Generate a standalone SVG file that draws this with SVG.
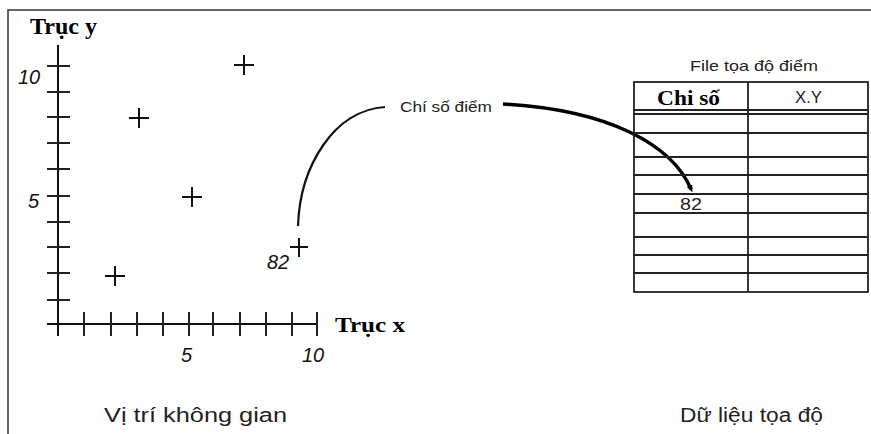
<svg xmlns="http://www.w3.org/2000/svg" width="871" height="434" viewBox="0 0 871 434">
<defs>
<style>
.ax{stroke:#111;stroke-width:2;fill:none}
.tk{stroke:#222;stroke-width:2}
.pl{stroke:#111;stroke-width:2}
.ser{font-family:"Liberation Serif",serif;font-weight:bold;fill:#000}
.num{font-family:"Liberation Sans",Arial,sans-serif;font-style:italic;font-size:20px;fill:#111}
.sans{font-family:"Liberation Sans",Arial,sans-serif;fill:#222}
.tl{stroke:#222;stroke-width:1.8}
</style>
<marker id="blob" viewBox="0 0 10 10" refX="5" refY="5" markerWidth="2.2" markerHeight="2.2" orient="auto">
<path d="M0,1 L10,5 L0,9 z" fill="#000"/>
</marker>
</defs>
<rect width="871" height="434" fill="#fff"/>
<path d="M8,434 V10 H871" stroke="#333" stroke-width="1.5" fill="none"/>

<g id="axes">
<line class="ax" x1="58" y1="45" x2="58" y2="336"/>
<line class="ax" x1="47" y1="324" x2="317" y2="324"/>
<g class="tk">
<line x1="47" y1="66" x2="70" y2="66"/>
<line x1="47" y1="92" x2="70" y2="92"/>
<line x1="47" y1="117" x2="70" y2="117"/>
<line x1="47" y1="143" x2="70" y2="143"/>
<line x1="47" y1="169" x2="70" y2="169"/>
<line x1="47" y1="196" x2="70" y2="196"/>
<line x1="47" y1="222" x2="70" y2="222"/>
<line x1="47" y1="247" x2="70" y2="247"/>
<line x1="47" y1="273" x2="70" y2="273"/>
<line x1="47" y1="300" x2="70" y2="300"/>
<line x1="84" y1="312" x2="84" y2="336"/>
<line x1="111" y1="312" x2="111" y2="336"/>
<line x1="137" y1="312" x2="137" y2="336"/>
<line x1="163" y1="312" x2="163" y2="336"/>
<line x1="189" y1="312" x2="189" y2="336"/>
<line x1="213" y1="312" x2="213" y2="336"/>
<line x1="240" y1="312" x2="240" y2="336"/>
<line x1="266" y1="312" x2="266" y2="336"/>
<line x1="292" y1="312" x2="292" y2="336"/>
<line x1="317" y1="312" x2="317" y2="336"/>
</g>
<text class="ser" x="30" y="34" font-size="23" textLength="67" lengthAdjust="spacingAndGlyphs">Trục y</text>
<text class="ser" x="335" y="332" font-size="22" textLength="70" lengthAdjust="spacingAndGlyphs">Trục x</text>
<text class="num" x="18" y="84">10</text>
<text class="num" x="28" y="208">5</text>
<text class="num" x="181" y="362">5</text>
<text class="num" x="302" y="362">10</text>
</g>

<g id="points">
<path class="pl" d="M234,65 H254 M244,55 V75"/>
<path class="pl" d="M129,118 H149 M139,108 V128"/>
<path class="pl" d="M182,197 H202 M192,187 V207"/>
<path class="pl" d="M105,276 H125 M115,266 V286"/>
<path class="pl" d="M290,247 H308 M299,238 V257"/>
<text class="num" x="267" y="269" font-size="20">82</text>
</g>

<g id="label-chiso">
<text class="sans" x="400" y="112" font-size="15" textLength="92" lengthAdjust="spacingAndGlyphs">Chí số điểm</text>
</g>

<g id="connectors">
<path d="M298,226 C300,165 335,110 385,107" stroke="#111" stroke-width="2.2" fill="none"/>
<path d="M503,104 C610,110 672,145 691,189" stroke="#000" stroke-width="3.4" fill="none" marker-end="url(#blob)"/>
</g>

<g id="table">
<text class="sans" x="690" y="71" font-size="15" textLength="128" lengthAdjust="spacingAndGlyphs">File tọa độ điểm</text>
<rect x="634" y="82" width="234" height="210" fill="none" stroke="#222" stroke-width="1.8"/>
<line class="tl" x1="748" y1="82" x2="748" y2="292"/>
<g class="tl">
<line x1="634" y1="110" x2="868" y2="110"/>
<line x1="634" y1="114" x2="868" y2="114"/>
<line x1="634" y1="133" x2="868" y2="133"/>
<line x1="634" y1="157" x2="868" y2="157"/>
<line x1="634" y1="175" x2="868" y2="175"/>
<line x1="634" y1="194" x2="868" y2="194"/>
<line x1="634" y1="213" x2="868" y2="213"/>
<line x1="634" y1="237" x2="868" y2="237"/>
<line x1="634" y1="255" x2="868" y2="255"/>
<line x1="634" y1="273" x2="868" y2="273"/>
</g>
<text class="ser" x="657" y="105" font-size="22" textLength="63" lengthAdjust="spacingAndGlyphs">Chi số</text>
<text class="sans" x="795" y="103" font-size="16" textLength="27" lengthAdjust="spacingAndGlyphs">X.Y</text>
<text class="sans" x="680" y="210" font-size="17" textLength="22" lengthAdjust="spacingAndGlyphs">82</text>
</g>

<g id="captions">
<text class="sans" x="104" y="422" font-size="20" fill="#111" textLength="183" lengthAdjust="spacingAndGlyphs">Vị trí không gian</text>
<text class="sans" x="680" y="422" font-size="20" fill="#111" textLength="143" lengthAdjust="spacingAndGlyphs">Dữ liệu tọa độ</text>
</g>
</svg>
